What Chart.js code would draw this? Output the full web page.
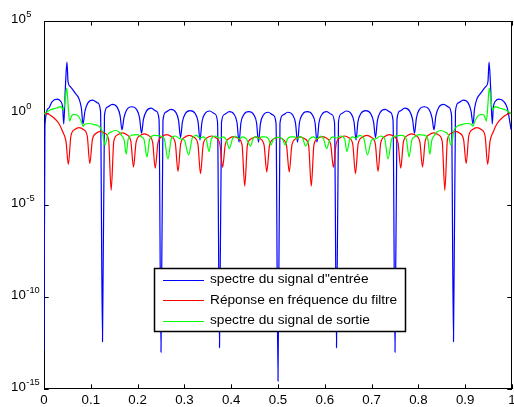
<!DOCTYPE html>
<html>
<head>
<meta charset="utf-8">
<title>Spectres</title>
<script src="https://cdn.jsdelivr.net/npm/chart.js@4.4.1/dist/chart.umd.min.js"></script>
<style>
  html, body { margin: 0; padding: 0; background: #fff; }
  #spectrumChart { display: block; }
</style>
</head>
<body>
<canvas id="spectrumChart" width="514" height="407"></canvas>
<script>
// magnitudes are stored as powers of ten (log10 of |X|), one row per lobe
const inputFreq = [
    0, 0.002, 0.010, 0.017, 0.028, 0.035, 0.040, 0.0422,
    0.0456, 0.049, 0.0514, 0.0563, 0.067, 0.0743, 0.0799, 0.0833,
    0.0875, 0.0938, 0.1042, 0.1146, 0.1208, 0.125,
    0.1292, 0.1354, 0.1458, 0.1563, 0.1625, 0.1667,
    0.1708, 0.1771, 0.1875, 0.1979, 0.2042, 0.2083,
    0.2125, 0.2188, 0.2292, 0.2396, 0.2458, 0.25,
    0.2542, 0.2604, 0.2708, 0.2813, 0.2875, 0.2917,
    0.2958, 0.3021, 0.3125, 0.3229, 0.3292, 0.3333,
    0.3375, 0.3438, 0.3542, 0.3646, 0.3708, 0.375,
    0.3792, 0.3854, 0.3958, 0.4063, 0.4125, 0.4167,
    0.4208, 0.4271, 0.4375, 0.4479, 0.4542, 0.4583,
    0.4625, 0.4688, 0.4792, 0.4896, 0.4958, 0.5,
    0.5042, 0.5104, 0.5208, 0.5313, 0.5375, 0.5417,
    0.5458, 0.5521, 0.5625, 0.5729, 0.5792, 0.5833,
    0.5875, 0.5938, 0.6042, 0.6146, 0.6208, 0.625,
    0.6292, 0.6354, 0.6458, 0.6563, 0.6625, 0.6667,
    0.6708, 0.6771, 0.6875, 0.6979, 0.7042, 0.7083,
    0.7125, 0.7188, 0.7292, 0.7396, 0.7458, 0.75,
    0.7542, 0.7604, 0.7708, 0.7813, 0.7875, 0.7917,
    0.7958, 0.8021, 0.8125, 0.8229, 0.8292, 0.8333,
    0.8375, 0.8438, 0.8542, 0.8646, 0.8708, 0.875,
    0.8792, 0.8854, 0.8958, 0.9063, 0.9125, 0.9167,
    0.9201, 0.9257, 0.933, 0.9437, 0.9486, 0.951, 0.9544, 0.9578,
    0.960, 0.965, 0.972, 0.983, 0.990, 0.998
];
const inputExp = [
    -12.9, -0.65, 0.26, 0.61, 0.75, 0.65, 0.26, -0.6,
    1.34, 2.76, 1.7, 1.43, 1.07, 0.8, 0.26, -0.6,
    0.1, 0.55, 0.7, 0.55, 0.1, -12.43,
    -0.13, 0.32, 0.47, 0.32, -0.13, -0.92,
    -0.26, 0.19, 0.34, 0.19, -0.26, -1.1,
    -0.35, 0.1, 0.26, 0.1, -0.35, -13.0,
    -0.4, 0.05, 0.2, 0.05, -0.4, -1.34,
    -0.48, -0.03, 0.13, -0.03, -0.48, -1.47,
    -0.49, -0.04, 0.11, -0.04, -0.49, -12.75,
    -0.53, -0.08, 0.07, -0.08, -0.53, -1.59,
    -0.53, -0.08, 0.07, -0.08, -0.53, -1.59,
    -0.56, -0.11, 0.04, -0.11, -0.56, -14.57,
    -0.56, -0.11, 0.04, -0.11, -0.56, -1.59,
    -0.53, -0.08, 0.07, -0.08, -0.53, -1.59,
    -0.53, -0.08, 0.07, -0.08, -0.53, -12.75,
    -0.49, -0.04, 0.11, -0.04, -0.49, -1.47,
    -0.48, -0.03, 0.13, -0.03, -0.48, -1.34,
    -0.4, 0.05, 0.2, 0.05, -0.4, -13.0,
    -0.35, 0.1, 0.26, 0.1, -0.35, -1.1,
    -0.26, 0.19, 0.34, 0.19, -0.26, -0.92,
    -0.13, 0.32, 0.47, 0.32, -0.13, -12.43,
    0.1, 0.55, 0.7, 0.55, 0.1, -0.6,
    0.26, 0.8, 1.07, 1.43, 1.7, 2.76, 1.34, -0.6,
    0.26, 0.65, 0.75, 0.61, 0.26, -0.9
];

const filterFreq = [
    0, 0.010, 0.0208, 0.0315, 0.040, 0.0471, 0.052,
    0.0575, 0.0658, 0.075, 0.0841, 0.0924, 0.0979,
    0.1034, 0.1116, 0.1207, 0.1298, 0.1380, 0.1435,
    0.1492, 0.1578, 0.1674, 0.1769, 0.1855, 0.1912,
    0.1968, 0.2052, 0.2145, 0.2238, 0.2321, 0.2377,
    0.2435, 0.2523, 0.2620, 0.2717, 0.2805, 0.2863,
    0.2921, 0.3008, 0.3104, 0.3200, 0.3287, 0.3345,
    0.3402, 0.3486, 0.3581, 0.3675, 0.3759, 0.3816,
    0.3873, 0.3958, 0.4053, 0.4147, 0.4232, 0.4289,
    0.4346, 0.4430, 0.4525, 0.4619, 0.4703, 0.4760,
    0.4818, 0.4904, 0.5, 0.5096, 0.5182, 0.5240,
    0.5297, 0.5381, 0.5475, 0.5570, 0.5654, 0.5711,
    0.5768, 0.5853, 0.5947, 0.6042, 0.6127, 0.6184,
    0.6241, 0.6325, 0.6419, 0.6514, 0.6598, 0.6655,
    0.6713, 0.6800, 0.6896, 0.6992, 0.7079, 0.7137,
    0.7195, 0.7283, 0.7380, 0.7477, 0.7565, 0.7623,
    0.7679, 0.7762, 0.7855, 0.7948, 0.8032, 0.8088,
    0.8145, 0.8231, 0.8326, 0.8422, 0.8508, 0.8565,
    0.8620, 0.8702, 0.8793, 0.8884, 0.8966, 0.9021,
    0.9076, 0.9159, 0.9250, 0.9342, 0.9425, 0.9480,
    0.9529, 0.960, 0.9685, 0.9792, 0.990, 0.998
];
const filterExp = [
    0.0, -0.07, -0.26, -0.56, -1.02, -1.56, -2.8,
    -1.25, -0.9, -0.8, -0.9, -1.25, -2.75,
    -1.45, -1.1, -1.0, -1.1, -1.45, -4.2,
    -1.53, -1.18, -1.08, -1.18, -1.53, -2.93,
    -1.58, -1.23, -1.13, -1.23, -1.58, -3.0,
    -1.63, -1.28, -1.18, -1.28, -1.63, -3.18,
    -1.67, -1.32, -1.22, -1.32, -1.67, -3.3,
    -1.7, -1.35, -1.25, -1.35, -1.7, -2.95,
    -1.73, -1.38, -1.28, -1.38, -1.73, -3.97,
    -1.75, -1.4, -1.3, -1.4, -1.75, -3.2,
    -1.77, -1.42, -1.32, -1.42, -1.77, -3.2,
    -1.75, -1.4, -1.3, -1.4, -1.75, -3.97,
    -1.73, -1.38, -1.28, -1.38, -1.73, -2.95,
    -1.7, -1.35, -1.25, -1.35, -1.7, -3.3,
    -1.67, -1.32, -1.22, -1.32, -1.67, -3.18,
    -1.63, -1.28, -1.18, -1.28, -1.63, -3.0,
    -1.58, -1.23, -1.13, -1.23, -1.58, -2.93,
    -1.53, -1.18, -1.08, -1.18, -1.53, -4.2,
    -1.45, -1.1, -1.0, -1.1, -1.45, -2.75,
    -1.25, -0.9, -0.8, -0.9, -1.25, -2.8,
    -1.56, -1.02, -0.56, -0.26, -0.07, 0.0
];

const outputFreq = [
    0, 0.0128, 0.0272, 0.0364, 0.0413, 0.045, 0.0486, 0.0514, 0.0546, 0.0589,
    0.0642, 0.0728, 0.0792, 0.0835, 0.0878, 0.0964, 0.1071, 0.1178, 0.1242, 0.1306,
    0.136, 0.1435, 0.152, 0.1606, 0.1666, 0.1713, 0.1756, 0.1799, 0.1884, 0.1991,
    0.2084, 0.2141, 0.2199, 0.2259, 0.2355, 0.2484, 0.257, 0.2649, 0.2719, 0.2805,
    0.2916, 0.2998, 0.309, 0.3169, 0.3255, 0.3334, 0.3405, 0.3469, 0.3527, 0.3576,
    0.3662, 0.3747, 0.3833, 0.3897, 0.3961, 0.4026, 0.409, 0.4167, 0.424, 0.4325,
    0.4411, 0.4475, 0.454, 0.4585, 0.4647, 0.4732, 0.4797, 0.485, 0.4904, 0.5,
    0.5096, 0.515, 0.5203, 0.5268, 0.5353, 0.5415, 0.546, 0.5525, 0.5589, 0.5675,
    0.576, 0.5833, 0.591, 0.5974, 0.6039, 0.6103, 0.6167, 0.6253, 0.6338, 0.6424,
    0.6473, 0.6531, 0.6595, 0.6666, 0.6745, 0.6831, 0.691, 0.7002, 0.7084, 0.7195,
    0.7281, 0.7351, 0.743, 0.7516, 0.7645, 0.7741, 0.7801, 0.7859, 0.7916, 0.8009,
    0.8116, 0.8201, 0.8244, 0.8287, 0.8334, 0.8394, 0.848, 0.8565, 0.864, 0.8694,
    0.8758, 0.8822, 0.8929, 0.9036, 0.9122, 0.9165, 0.9208, 0.9272, 0.9358, 0.9411,
    0.9454, 0.9486, 0.9514, 0.955, 0.9587, 0.9636, 0.9728, 0.9872, 0.998
];
const outputExp = [
    -0.05, 0.16, 0.27, 0.35, 0.16, 0.71, 1.36, 0.49, -0.44, -0.16,
    -0.08, -0.16, -0.44, -0.71, -0.6, -0.57, -0.63, -0.73, -0.98, -1.74,
    -1.2, -1.03, -0.95, -1.03, -1.25, -1.47, -2.23, -1.41, -1.2, -1.17,
    -1.3, -1.47, -2.39, -1.41, -1.22, -1.25, -1.41, -2.5, -1.41, -1.25,
    -1.41, -1.47, -2.28, -1.36, -1.22, -1.36, -1.3, -1.47, -2.09, -1.41,
    -1.25, -1.36, -1.3, -1.47, -1.93, -1.41, -1.25, -1.41, -1.3, -1.41,
    -1.79, -1.36, -1.28, -1.41, -1.3, -1.3, -1.41, -1.74, -1.41, -1.33,
    -1.41, -1.74, -1.41, -1.3, -1.3, -1.41, -1.28, -1.36, -1.79, -1.41,
    -1.3, -1.41, -1.25, -1.41, -1.93, -1.47, -1.3, -1.36, -1.25, -1.41,
    -2.09, -1.47, -1.3, -1.36, -1.22, -1.36, -2.28, -1.47, -1.41, -1.25,
    -1.41, -2.5, -1.41, -1.25, -1.22, -1.41, -2.39, -1.47, -1.3, -1.17,
    -1.2, -1.41, -2.23, -1.47, -1.25, -1.03, -0.95, -1.03, -1.2, -1.74,
    -0.98, -0.73, -0.63, -0.57, -0.6, -0.71, -0.44, -0.16, -0.08, -0.16,
    -0.44, 0.49, 1.36, 0.71, 0.16, 0.35, 0.27, 0.16, -0.05
];

const seriesLabels = [
    'spectre du signal d"entrée',
    'Réponse en fréquence du filtre',
    'spectre du signal de sortie'
];
const seriesColors = ['#0000ff', '#ff0000', '#00ff00'];
const xTickValues = [0, 0.1, 0.2, 0.3, 0.4, 0.5, 0.6, 0.7, 0.8, 0.9, 1];
const yTickPowers = [5, 0, -5, -10, -15];

const FONT = '"Liberation Sans", Arial, Helvetica, sans-serif';

function toPoints(freq, exps) {
    return freq.map((f, i) => ({ x: f, y: Math.pow(10, exps[i]) }));
}

// box, inward tick marks and "10^n" labels in the old matlab style
const axesBox = {
    id: 'axesBox',
    beforeDatasetsDraw(chart) {
        const { ctx, chartArea: a, scales } = chart;
        const tl = 4.7;
        ctx.save();
        ctx.strokeStyle = '#000';
        ctx.lineWidth = 1;
        ctx.strokeRect(a.left + 0.5, a.top + 0.5, a.right - a.left - 1, a.bottom - a.top - 1);

        ctx.beginPath();
        xTickValues.forEach(v => {
            const px = Math.round(scales.x.getPixelForValue(v)) + 0.5;
            ctx.moveTo(px, a.bottom);
            ctx.lineTo(px, a.bottom - tl);
            ctx.moveTo(px, a.top);
            ctx.lineTo(px, a.top + tl);
        });
        yTickPowers.forEach(p => {
            const py = Math.round(scales.y.getPixelForValue(Math.pow(10, p))) + 0.5;
            ctx.moveTo(a.left, py);
            ctx.lineTo(a.left + tl, py);
            ctx.moveTo(a.right, py);
            ctx.lineTo(a.right - tl, py);
        });
        ctx.stroke();

        ctx.fillStyle = '#000';
        ctx.textAlign = 'left';
        ctx.textBaseline = 'middle';
        yTickPowers.forEach(p => {
            const py = scales.y.getPixelForValue(Math.pow(10, p));
            const x0 = a.left - 33;
            ctx.font = '13.3px ' + FONT;
            ctx.fillText('10', x0, py - 1.5);
            const w = ctx.measureText('10').width;
            ctx.font = '9.3px ' + FONT;
            ctx.fillText(String(p), x0 + w + 0.5, py - 7);
        });
        ctx.restore();
    }
};

const boxedLegend = {
    id: 'boxedLegend',
    afterDatasetsDraw(chart) {
        const { ctx } = chart;
        const box = { left: 154, top: 268, right: 406, bottom: 332 };
        const rows = [279.5, 300, 320.5];
        ctx.save();
        ctx.fillStyle = '#fff';
        ctx.fillRect(box.left, box.top, box.right - box.left, box.bottom - box.top);
        ctx.strokeStyle = '#000';
        ctx.lineWidth = 1.5;
        ctx.strokeRect(box.left + 0.5, box.top + 0.5, box.right - box.left - 1, box.bottom - box.top - 1);
        ctx.font = '13.7px ' + FONT;
        ctx.textAlign = 'left';
        ctx.textBaseline = 'middle';
        chart.data.datasets.forEach((ds, i) => {
            const y = rows[i];
            ctx.strokeStyle = ds.borderColor;
            ctx.lineWidth = 1.2;
            ctx.beginPath();
            ctx.moveTo(163, Math.round(y) + 0.5);
            ctx.lineTo(204, Math.round(y) + 0.5);
            ctx.stroke();
            ctx.fillStyle = '#000';
            ctx.fillText(ds.label, 210, y);
        });
        ctx.restore();
    }
};

const lineStyle = {
    borderWidth: 1.2,
    pointRadius: 0,
    fill: false,
    cubicInterpolationMode: 'monotone'
};

new Chart(document.getElementById('spectrumChart').getContext('2d'), {
    type: 'line',
    data: {
        datasets: [
            { ...lineStyle, label: seriesLabels[0], borderColor: seriesColors[0], data: toPoints(inputFreq, inputExp), order: 3 },
            { ...lineStyle, label: seriesLabels[1], borderColor: seriesColors[1], data: toPoints(filterFreq, filterExp), order: 2 },
            { ...lineStyle, label: seriesLabels[2], borderColor: seriesColors[2], data: toPoints(outputFreq, outputExp), order: 1 }
        ]
    },
    options: {
        responsive: false,
        animation: false,
        devicePixelRatio: 1,
        layout: { padding: { top: 21, right: 2, left: 0, bottom: 0 } },
        plugins: {
            legend: { display: false },
            tooltip: { enabled: false }
        },
        scales: {
            x: {
                type: 'linear',
                min: 0,
                max: 1,
                grid: { display: false, drawTicks: false, tickLength: 0 },
                border: { display: false },
                ticks: {
                    color: '#000',
                    font: { family: FONT, size: 13.3 },
                    padding: 3,
                    maxRotation: 0,
                    autoSkip: false,
                    callback: v => String(v)
                },
                afterBuildTicks: s => { s.ticks = xTickValues.map(v => ({ value: v })); },
                afterFit: s => { s.height = 18; s.paddingLeft = 0; s.paddingRight = 0; }
            },
            y: {
                type: 'logarithmic',
                min: 1e-15,
                max: 1e5,
                grid: { display: false, drawTicks: false, tickLength: 0 },
                border: { display: false },
                ticks: { display: false },
                afterFit: s => { s.width = 44; s.paddingTop = 0; s.paddingBottom = 0; }
            }
        }
    },
    plugins: [axesBox, boxedLegend]
});
</script>
</body>
</html>
